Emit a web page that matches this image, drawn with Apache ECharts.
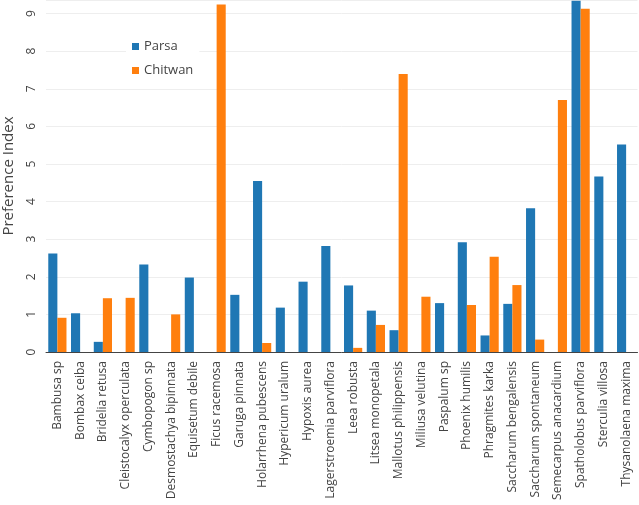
<!DOCTYPE html>
<html><head><meta charset="utf-8">
<script src="https://cdn.jsdelivr.net/npm/echarts@6/dist/echarts.min.js"></script>
<style>html,body{margin:0;padding:0;background:#fff}#c{width:639px;height:505px}</style>
</head><body><div id="c"></div>
<script>
const categories = ["Bambusa sp","Bombax ceiba","Bridelia retusa","Cleistocalyx operculata","Cymbopogon sp","Desmostachya bipinnata","Equisetum debile","Ficus racemosa","Garuga pinnata","Holarrhena pubescens","Hypericum uralum","Hypoxis aurea","Lagerstroemia parviflora","Leea robusta","Litsea monopetala","Mallotus philippensis","Miliusa velutina","Paspalum sp","Phoenix humilis","Phragmites karka","Saccharum bengalensis","Saccharum spontaneum","Semecarpus anacardium","Spatholobus parviflora","Sterculia villosa","Thysanolaena maxima"];
const parsa   = [2.62,1.03,0.27,0,2.33,0,1.98,0,1.52,4.55,1.18,1.87,2.82,1.77,1.10,0.58,0,1.30,2.92,0.44,1.28,3.82,0,9.34,4.67,5.52];
const chitwan = [0.91,0,1.43,1.44,0,1.00,0,9.24,0,0.24,0,0,0,0.11,0.72,7.39,1.47,0,1.25,2.53,1.78,0.33,6.70,9.13,0,0];
const yTicks = [0,1,2,3,4,5,6,7,8,9];
const font = '"Open Sans", sans-serif';
const chart = echarts.init(document.getElementById('c'));
chart.setOption({
  animation: false,
  textStyle: {fontFamily: font},
  grid: {left: 46, right: 1.5, top: 0, bottom: 153, outerBoundsMode: 'none', containLabel: false},
  legend: {
    orient: 'vertical', left: 126, top: 36,
    itemWidth: 7, itemHeight: 7, itemGap: 11,
    backgroundColor: '#fff', padding: [4, 6, 4, 6],
    textStyle: {fontSize: 13, color: '#444', fontFamily: font},
    icon: 'rect',
    data: ['Parsa', 'Chitwan']
  },
  xAxis: {
    type: 'category', data: categories,
    axisLine: {lineStyle: {color: '#444', width: 1}},
    axisTick: {alignWithLabel: true, length: 5, lineStyle: {color: '#444'}},
    axisLabel: {rotate: 90, fontSize: 12, color: '#444', margin: 9, interval: 0, fontFamily: font}
  },
  yAxis: {
    type: 'value', min: 0, max: 9.36, interval: 1,
    name: 'Preference Index', nameLocation: 'middle', nameGap: 30,
    nameTextStyle: {fontSize: 15, color: '#444', fontFamily: font},
    axisLine: {show: false}, axisTick: {show: false},
    axisLabel: {rotate: 90, fontSize: 12, color: '#444', margin: 8, showMaxLabel: false, fontFamily: font,
      formatter: v => (yTicks.indexOf(v) >= 0 ? String(v) : '')},
    splitLine: {lineStyle: {color: '#eee', width: 1}}
  },
  series: [
    {name: 'Parsa', type: 'bar', data: parsa, barGap: '0%', barCategoryGap: '20%',
     itemStyle: {color: '#1f77b4'}},
    {name: 'Chitwan', type: 'bar', data: chitwan, barGap: '0%', barCategoryGap: '20%',
     itemStyle: {color: '#ff7f0e'}}
  ]
});
</script></body></html>
